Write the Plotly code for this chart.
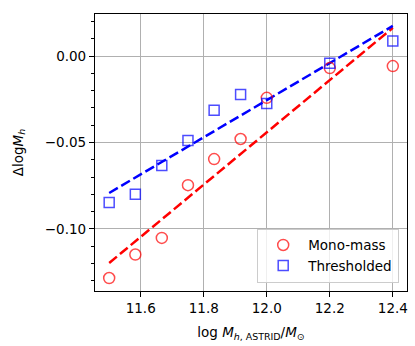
import plotly.graph_objects as go

# halo mass bins (log M_h, ASTRID / Msun)
mass = [11.5, 11.583, 11.667, 11.75, 11.833, 11.917, 12.0, 12.2, 12.4]
# Delta log M_h per bin
mono = [-0.1284, -0.1148, -0.1052, -0.0747, -0.0596, -0.048, -0.0242, -0.0070, -0.0058]
thresh = [-0.0847, -0.0799, -0.0633, -0.0488, -0.0313, -0.0222, -0.0274, -0.0042, 0.0087]
# linear fit end points
fit_x = [11.5, 12.4]
mono_fit = [-0.1197, 0.0163]
thresh_fit = [-0.0792, 0.0174]

font = "DejaVu Sans"

fig = go.Figure()
fig.add_trace(go.Scatter(x=fit_x, y=mono_fit, mode="lines", showlegend=False,
                         line=dict(color="red", width=2.5, dash="10px,4px")))
fig.add_trace(go.Scatter(x=fit_x, y=thresh_fit, mode="lines", showlegend=False,
                         line=dict(color="blue", width=2.5, dash="10px,4px")))
fig.add_trace(go.Scatter(x=mass, y=mono, mode="markers", name="Mono-mass",
                         marker=dict(symbol="circle-open", size=11, color="rgba(255,0,0,0.7)",
                                     line=dict(width=1.5))))
fig.add_trace(go.Scatter(x=mass, y=thresh, mode="markers", name="Thresholded",
                         marker=dict(symbol="square-open", size=10, color="rgba(0,0,255,0.7)",
                                     line=dict(width=1.5))))

axis_common = dict(showline=True, linecolor="black", linewidth=1.2, mirror=True,
                   ticks="outside", ticklen=5, tickcolor="black", tickwidth=1,
                   showgrid=True, gridcolor="#b0b0b0", gridwidth=1, zeroline=False,
                   automargin=False,
                   tickfont=dict(size=13.5, color="black", family=font))

fig.update_xaxes(axis_common, range=[11.455, 12.445], tickvals=[11.6, 11.8, 12.0, 12.2, 12.4],
                 ticktext=["11.6", "11.8", "12.0", "12.2", "12.4"],
                 title=dict(text="log <i>M</i><sub><i>h</i>, ASTRID</sub>/<i>M</i><sub>⊙</sub>",
                            font=dict(size=13.5, color="black", family=font), standoff=12))
fig.update_yaxes(axis_common, range=[-0.1359, 0.0243], tickvals=[-0.10, -0.05, 0.0],
                 ticktext=["\u22120.10", "\u22120.05", "0.00"],
                 minor=dict(dtick=0.01, tick0=0, ticks="outside", ticklen=3, tickcolor="black", showgrid=False),
                 title=dict(text="Δlog<i>M</i><sub><i>h</i></sub>",
                            font=dict(size=13.5, color="black", family=font), standoff=18))

fig.update_layout(
    width=415, height=346,
    margin=dict(l=95, r=8, t=14, b=55),
    plot_bgcolor="white", paper_bgcolor="white",
    font=dict(family=font, size=13.5, color="black"),
    legend=dict(x=0.975, y=0.03, xanchor="right", yanchor="bottom",
                bgcolor="rgba(255,255,255,0.8)", bordercolor="#cccccc", borderwidth=1,
                font=dict(size=13.5, family=font), tracegroupgap=0, itemwidth=40),
)

fig.write_html("out.html", config={"displayModeBar": False},
               post_script="document.body.style.margin='0';")
